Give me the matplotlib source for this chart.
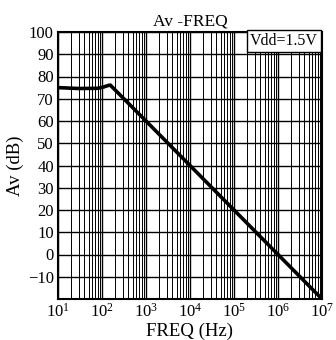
import matplotlib
matplotlib.use("Agg")
import matplotlib.pyplot as plt
from matplotlib.ticker import LogLocator, FixedLocator, NullFormatter

plt.rcParams['font.family'] = ['Liberation Serif', 'DejaVu Serif']
plt.rcParams['mathtext.fontset'] = 'stix'

freq = [10, 30, 80, 110, 140, 155, 1e3, 1e4, 1e5, 1e6, 1e7]
gain = [75, 74.6, 74.7, 75.3, 76, 76.1, 60, 40, 20, 0, -20]
yticks = [-10, 0, 10, 20, 30, 40, 50, 60, 70, 80, 90, 100]

fig = plt.figure(figsize=(3.36, 3.40), dpi=100)
ax = fig.add_axes([58/336, 1-299/340, (322-58)/336, (299-32)/340])
ax.plot(freq, gain, color='black', lw=2.6, zorder=3, solid_joinstyle='miter')
ax.set_xscale('log')
ax.set_xlim(10, 1e7)
ax.set_ylim(-20, 100)
ax.yaxis.set_major_locator(FixedLocator(yticks))
ax.xaxis.set_major_locator(LogLocator(base=10, numticks=10))
ax.xaxis.set_minor_locator(LogLocator(base=10, subs=range(2, 10), numticks=100))
ax.xaxis.set_minor_formatter(NullFormatter())
ax.grid(True, which='major', color='black', lw=1.0)
ax.grid(True, which='minor', axis='x', color='black', lw=0.7)
ax.tick_params(which='both', length=0, labelsize=12, pad=3)
for s in ax.spines.values():
    s.set_linewidth(1.5)
ax.set_title('Av -FREQ', fontsize=12.5, pad=5)
ax.set_xlabel('FREQ (Hz)', fontsize=13.5, labelpad=1)
ax.set_ylabel('Av (dB)', fontsize=13.5, labelpad=3)
ax.text(0.985, 0.995, 'Vdd=1.5V', transform=ax.transAxes, ha='right', va='top',
        fontsize=11.5, zorder=5,
        bbox=dict(boxstyle='square,pad=0.18', fc='white', ec='black', lw=1.0))
fig.savefig('out.png', dpi=100)
